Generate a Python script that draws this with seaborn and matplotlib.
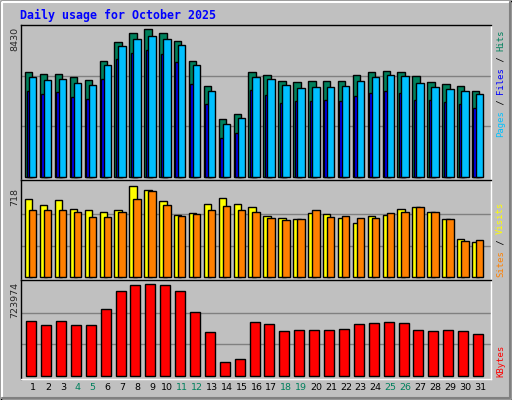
import matplotlib
matplotlib.use("Agg")
import matplotlib.pyplot as plt
import seaborn as sns
import pandas as pd
from matplotlib.lines import Line2D

days = list(range(1, 32))
weekend = [4, 5, 11, 12, 18, 19, 25, 26]
hits = [5825, 5713, 5713, 5546, 5378, 6439, 7500, 8002, 8226, 8002, 7556, 6439, 5043, 3201, 3480,
        5825, 5657, 5322, 5267, 5322, 5322, 5322, 5657, 5825, 5881, 5825, 5602, 5267, 5155, 5043, 4764]
files = [4783, 4597, 4708, 4429, 4318, 5434, 6551, 6886, 7053, 6830, 6383, 5155, 4038, 2140, 2419,
         4820, 4541, 4094, 4206, 4206, 4262, 4206, 4485, 4653, 4764, 4653, 4262, 4262, 4150, 4038, 3815]
pages = [5546, 5378, 5434, 5211, 5099, 6216, 7277, 7667, 7835, 7667, 7332, 6216, 4764, 2922, 3257,
         5546, 5434, 5099, 4932, 4987, 4987, 5043, 5322, 5546, 5657, 5602, 5211, 4987, 4876, 4764, 4597]
visits = [600, 554, 592, 524, 509, 501, 516, 698, 668, 584, 471, 486, 562, 607, 562,
          532, 463, 448, 441, 486, 479, 448, 411, 463, 471, 524, 539, 494, 441, 290, 267]
sites = [516, 509, 516, 494, 456, 456, 494, 600, 660, 554, 463, 479, 516, 547, 516,
         494, 448, 433, 441, 509, 456, 463, 448, 448, 486, 501, 539, 501, 441, 275, 282]
kbytes = [418000, 388000, 418000, 388000, 388000, 511000, 649000, 696000, 703000, 696000, 649000,
          488000, 334000, 103000, 126000, 411000, 395000, 341000, 349000, 349000, 349000, 357000,
          395000, 403000, 411000, 403000, 349000, 341000, 349000, 341000, 318000]
max_hits, max_visits, max_kb = 8430, 718, 723974

sns.set_theme(style="white")
plt.rcParams['font.family'] = ['DejaVu Sans']
BG = "#C0C0C0"
fig = plt.figure(figsize=(5.12, 4.0), dpi=100, facecolor=BG)

W, H = 512, 400
def mk(top, bot):
    return fig.add_axes([20.7 / W, 1 - bot / H, 470 / W, (bot - top) / H])

ax1 = mk(25, 180); ax2 = mk(180, 280); ax3 = mk(280, 379)
df = pd.DataFrame(dict(day=days, hits=hits, files=files, pages=pages,
                       visits=visits, sites=sites, kb=kbytes))
idx = pd.Series(range(31))

def bars(ax, col, off, color, width=0.5):
    d = pd.DataFrame({"x": idx + off, "y": df[col]})
    sns.barplot(data=d, x="x", y="y", native_scale=True, width=width, color=color,
                edgecolor="black", linewidth=1, saturation=1, ax=ax)

bars(ax1, "hits", -0.29, "#00805C")
bars(ax1, "files", -0.19, "#0000FF")
bars(ax1, "pages", -0.02, "#00C0FF")
bars(ax2, "visits", -0.29, "#FFFF00")
bars(ax2, "sites", -0.02, "#FF8000")
bars(ax3, "kb", -0.13, "#FF0000", width=0.67)

for ax, mx, lo, hi in [(ax1, max_hits, -186, 8467), (ax2, max_visits, -25, 743), (ax3, max_kb, -25670, 736700)]:
    ax.set_facecolor(BG)
    ax.set_xlim(-0.83, 30.72)
    ax.set_ylim(lo, hi)
    for f in (1 / 3, 2 / 3):
        ax.axhline(mx * f, color="#808080", lw=1, zorder=0)
    ax.set_yticks([]); ax.set_xlabel(""); ax.set_ylabel("")
    for s in ("top", "left"):
        ax.spines[s].set_color("black")
    for s in ("bottom", "right"):
        ax.spines[s].set_color("white")
    for s in ax.spines.values():
        s.set_linewidth(1)
    ax.set_xticks([])

ax3.set_xticks(list(idx))
ax3.set_xticklabels([str(d) for d in days], fontsize=6.8)
ax3.tick_params(axis="x", length=0, pad=3)
for lbl, d in zip(ax3.get_xticklabels(), days):
    lbl.set_color("#00805C" if d in weekend else "black")

fig.text(20 / W, 1 - 15 / H, "Daily usage for October 2025", family="DejaVu Sans Mono",
         weight="bold", fontsize=8.4, color="#0000FF", va="center", ha="left")

for txt, top in [(str(max_hits), 27), (str(max_visits), 188), (str(max_kb), 282)]:
    fig.text(14.5 / W, 1 - top / H, txt, rotation=90, fontsize=6.8, ha="center", va="top")

cw = 5.35
def side(pieces, bottom):
    pos = 0
    for t, c in pieces:
        cy = bottom - (pos + len(t) / 2) * cw
        fig.text(500.5 / W, 1 - cy / H, t, rotation=90, color=c, family="DejaVu Sans Mono",
                 fontsize=6.4, ha="center", va="center")
        pos += len(t)

side([("Pages", "#00C0FF"), (" / ", "black"), ("Files", "#0000FF"), (" / ", "black"), ("Hits", "#00805C")], 137)
side([("Sites", "#FF8000"), (" / ", "black"), ("Visits", "#FFFF00")], 277)
side([("KBytes", "#FF0000")], 377)

# bevel border
fig.add_artist(Line2D([0.5 / W, 0.5 / W, 1 - 0.5 / W, 1 - 0.5 / W, 0.5 / W],
                      [0.5 / H, 1 - 0.5 / H, 1 - 0.5 / H, 0.5 / H, 0.5 / H], color="black", lw=1))
fig.add_artist(Line2D([2 / W, 2 / W, 1 - 2 / W], [2 / H, 1 - 2 / H, 1 - 2 / H], color="white", lw=1.5))
fig.add_artist(Line2D([2 / W, 1 - 2 / W, 1 - 2 / W], [2 / H, 2 / H, 1 - 2 / H], color="#808080", lw=1.5))

fig.savefig("out.png", dpi=100, facecolor=BG)
